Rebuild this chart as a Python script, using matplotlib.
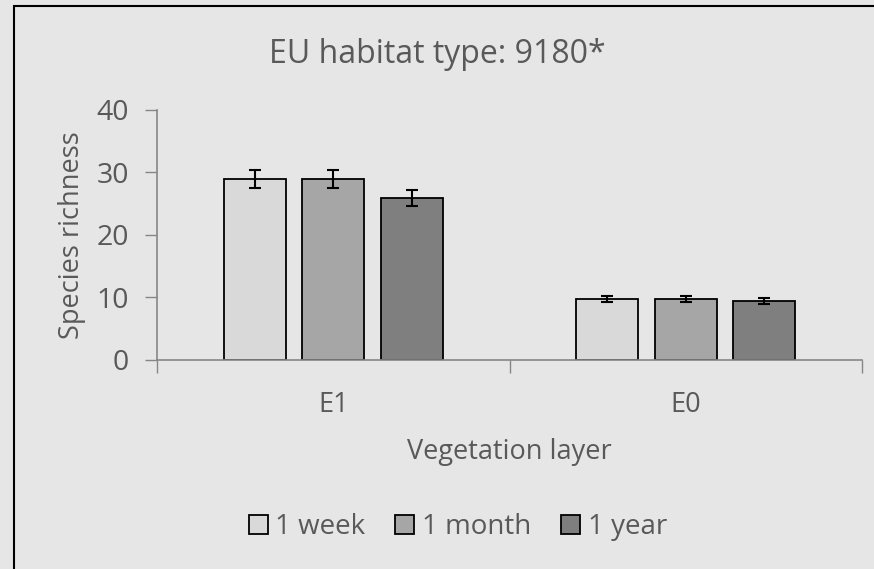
import matplotlib
matplotlib.use("Agg")
import matplotlib.pyplot as plt
from matplotlib.patches import Rectangle
import numpy as np

categories = ["E1", "E0"]
series_names = ["1 week", "1 month", "1 year"]
values = {
    "1 week": [29.0, 9.75],
    "1 month": [29.0, 9.75],
    "1 year": [25.9, 9.3],
}
errors = {
    "1 week": [1.45, 0.5],
    "1 month": [1.45, 0.5],
    "1 year": [1.3, 0.48],
}
colors = ["#d9d9d9", "#a6a6a6", "#7f7f7f"]
yticks = [0, 10, 20, 30, 40]

bg = "#e6e6e6"
txt = "#595959"
axc = "#868686"
plt.rcParams['font.family'] = ['Open Sans', 'DejaVu Sans']

fig = plt.figure(figsize=(8.74, 5.69), dpi=100, facecolor=bg)
W, H = 874, 569
ax = fig.add_axes([157 / W, 1 - 359.5 / H, (862 - 157) / W, (359.5 - 110) / H])
ax.set_facecolor(bg)

x = np.arange(len(categories))
width = 0.177
step = 0.2227
for i, name in enumerate(series_names):
    ax.bar(x + (i - 1) * step, values[name], width, color=colors[i],
           edgecolor="black", linewidth=1.3, label=name, zorder=2,
           yerr=errors[name], error_kw=dict(ecolor="black", elinewidth=1.5,
                                            capsize=4.3, capthick=1.5, zorder=3))

ax.set_xlim(-0.5, len(categories) - 0.5)
ax.set_ylim(0, 40)
ax.set_yticks(yticks)
ax.set_xticks(x)
ax.set_xticklabels(categories)
ax.set_xticks(np.arange(len(categories) + 1) - 0.5, minor=True)
ax.tick_params(axis="x", which="major", length=0, pad=23, labelsize=19.5, labelcolor=txt)
ax.tick_params(axis="x", which="minor", length=9, width=1, color=axc, direction="out")
ax.tick_params(axis="y", length=9, width=1, color=axc, labelsize=20.5, labelcolor=txt, pad=11)
for s in ["top", "right"]:
    ax.spines[s].set_visible(False)
for s in ["left", "bottom"]:
    ax.spines[s].set_color(axc)
    ax.spines[s].set_linewidth(1.2)

ax.set_xlabel("Vegetation layer", fontsize=19.5, color=txt, labelpad=13.5)
ax.set_ylabel("Species richness", fontsize=19.5, color=txt, labelpad=8)
fig.text(437 / W, 1 - 63 / H, "EU habitat type: 9180*", ha="center", va="baseline",
         fontsize=23, color=txt)

leg = fig.legend(loc="center", bbox_to_anchor=(458 / W, 1 - 527 / H), ncol=3,
                 frameon=False, fontsize=20, handlelength=0.68, handleheight=0.68,
                 handletextpad=0.28, columnspacing=1.08, labelcolor=txt)
for h in leg.legend_handles:
    h.set_linewidth(1.3)

fig.add_artist(Rectangle((14 / W, -0.1), 1.2, 1 - 6 / H + 0.1, transform=fig.transFigure,
                         fill=False, edgecolor="black", linewidth=1.5))

fig.savefig("out.png", dpi=100, facecolor=bg)
